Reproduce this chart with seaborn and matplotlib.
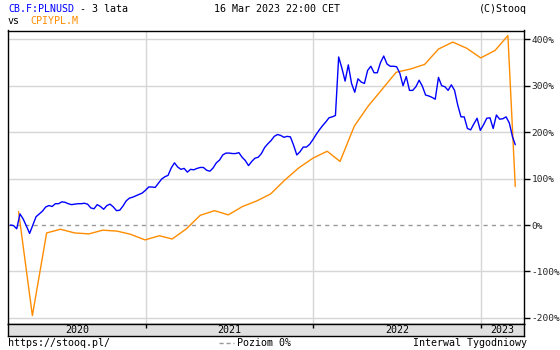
import matplotlib
matplotlib.use("Agg")
import matplotlib.pyplot as plt
import matplotlib.dates as mdates
import numpy as np
import pandas as pd
import seaborn as sns

# ---- data (percent change) ----
plnusd_start = "2020-03-13"
plnusd_values = [
    0, -1, -8, 24, 13, -2, -18, 0, 18, 24,
    30, 39, 42, 40, 46, 46, 50, 49, 46, 44,
    45, 46, 46, 47, 45, 37, 35, 44, 40, 34,
    42, 45, 39, 31, 32, 41, 52, 58, 60, 63,
    66, 69, 75, 82, 82, 81, 90, 99, 104, 107,
    123, 134, 125, 120, 122, 114, 120, 119, 122, 124,
    124, 118, 116, 123, 134, 140, 151, 155, 155, 154,
    154, 156, 146, 139, 128, 137, 144, 146, 154, 167,
    175, 182, 191, 195, 193, 189, 191, 190, 172, 151,
    158, 168, 168, 174, 184, 195, 205, 214, 222, 231,
    233, 236, 362, 338, 310, 345, 305, 286, 315, 308,
    305, 333, 342, 328, 328, 350, 364, 347, 342, 342,
    341, 327, 300, 320, 290, 290, 298, 312, 299, 280,
    278, 275, 271, 318, 300, 298, 290, 302, 290, 258,
    233, 233, 208, 205, 218, 230, 204, 216, 230, 231,
    208, 237, 228, 229, 233, 220, 190,
]
plnusd_last_date = "2023-03-16"
plnusd_last_value = 173

cpi_start = "2020-03-31"
cpi_values = [
    29, -195, -17, -9, -17, -19, -11, -13, -20, -32,
    -23, -30, -8, 21, 31, 22, 40, 52, 67, 97,
    123, 144, 159, 137, 213, 256, 293, 329, 336, 346,
    379, 394, 381, 360, 376, 408,
]
cpi_last_date = "2023-03-16"
cpi_last_value = 83

y_ticks = [-200, -100, 0, 100, 200, 300, 400]
years = [2020, 2021, 2022, 2023]

# ---- frames ----
d1 = list(pd.date_range(plnusd_start, periods=len(plnusd_values), freq="7D")) + [pd.Timestamp(plnusd_last_date)]
df1 = pd.DataFrame({"date": d1, "value": plnusd_values + [plnusd_last_value]})
d2 = list(pd.date_range(cpi_start, periods=len(cpi_values), freq="ME")) + [pd.Timestamp(cpi_last_date)]
df2 = pd.DataFrame({"date": d2, "value": cpi_values + [cpi_last_value]})

sns.set_style("white")
plt.rcParams["font.family"] = ["DejaVu Sans Mono", "DejaVu Sans"]
FS = 7.2

W, H = 560, 350
fig = plt.figure(figsize=(W / 100, H / 100), dpi=100)
fig.patch.set_facecolor("white")

L, R, T, B = 8, 524, 30.5, 323.5
ax = fig.add_axes([L / W, 1 - B / H, (R - L) / W, (B - T) / H])
ax.set_facecolor("white")

xmin, xmax = pd.Timestamp("2020-03-08"), pd.Timestamp("2023-04-04")
ax.set_xlim(xmin, xmax)
ax.set_ylim(-212, 419)

# grid
for yv in y_ticks:
    if yv == 0:
        ax.axhline(0, color="#999999", lw=1.0, ls=(0, (3, 3)), zorder=1)
    else:
        ax.axhline(yv, color="#d6d6d6", lw=1.0, zorder=1)
for yr in years[1:]:
    ax.axvline(pd.Timestamp(f"{yr}-01-01"), color="#d6d6d6", lw=1.0, zorder=1)

sns.lineplot(data=df2, x="date", y="value", ax=ax, color="#ff8c00", lw=1.0, zorder=3)
sns.lineplot(data=df1, x="date", y="value", ax=ax, color="#0000ff", lw=1.0, zorder=4)

ax.set_xlabel("")
ax.set_ylabel("")
ax.set_xticks([])
ax.yaxis.tick_right()
ax.set_yticks(y_ticks)
ax.set_yticklabels([f"{v}%" for v in y_ticks], fontsize=6.8)
ax.tick_params(axis="y", direction="out", length=4, width=1, color="black", pad=1.5)
for s in ax.spines.values():
    s.set_visible(True)
    s.set_color("black")
    s.set_linewidth(1.0)

# year band
bt, bb = 323.5, 335.5
bx = fig.add_axes([L / W, 1 - bb / H, (R - L) / W, (bb - bt) / H])
bx.set_facecolor("#e0e0e0")
bx.set_xlim(xmin, xmax)
bx.set_ylim(0, 1)
bx.set_yticks([])
bx.set_xticks([pd.Timestamp(f"{yr}-01-01") for yr in years[1:]])
bx.set_xticklabels([])
bx.tick_params(axis="x", direction="in", length=3, width=1, color="black", top=True, bottom=False)
for s in bx.spines.values():
    s.set_color("black")
    s.set_linewidth(1.0)
edges = [xmin] + [pd.Timestamp(f"{yr}-01-01") for yr in years[1:]] + [xmax]
for i, yr in enumerate(years):
    mid = edges[i] + (edges[i + 1] - edges[i]) / 2
    bx.text(mid, 0.45, str(yr), ha="center", va="center", fontsize=FS, color="black")

# header text
def ftxt(x, y, s, **kw):
    fig.text(x / W, 1 - y / H, s, fontsize=FS, va="center", **kw)

ftxt(8, 9, "CB.F:PLNUSD", color="#0000ff", ha="left")
ftxt(74, 9, " - 3 lata", color="black", ha="left")
ftxt(277, 9, "16 Mar 2023 22:00 CET", color="black", ha="center")
ftxt(527, 9, "(C)Stooq", color="black", ha="right")
ftxt(8, 21, "vs", color="black", ha="left")
ftxt(30, 21, "CPIYPL.M", color="#ff8c00", ha="left")

# footer
ftxt(8, 343, "https://stooq.pl/", color="black", ha="left")
fig.add_artist(plt.Line2D([219 / W, 234 / W], [1 - 343 / H, 1 - 343 / H], color="#999999", lw=1.0, ls=(0, (3, 2))))
ftxt(237, 343, "Poziom 0%", color="black", ha="left")
ftxt(527, 343, "Interwal Tygodniowy", color="black", ha="right")

fig.savefig("out.png", dpi=100)
